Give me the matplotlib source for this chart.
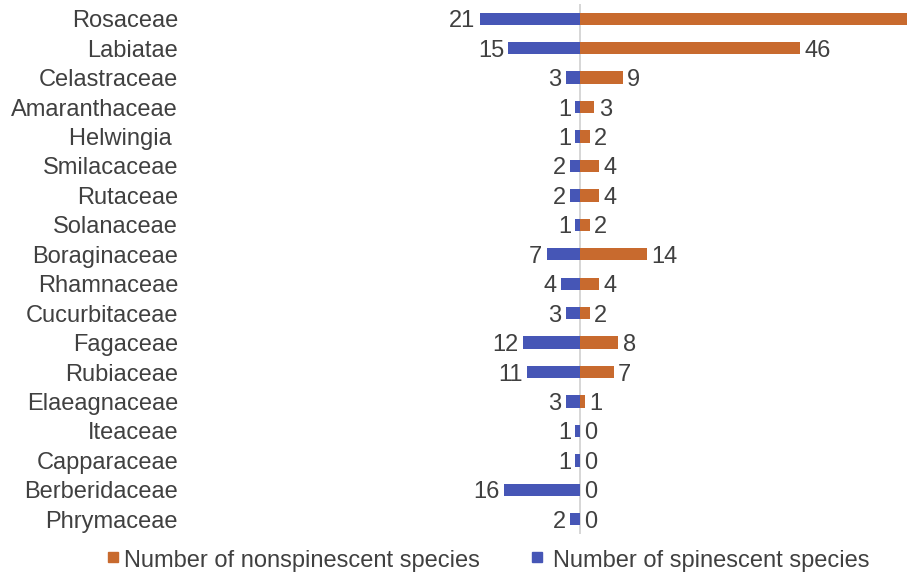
import matplotlib
matplotlib.use("Agg")
import matplotlib.pyplot as plt
from matplotlib.patches import Rectangle

plt.rcParams['font.family'] = ['Liberation Sans', 'DejaVu Sans']

families = ["Rosaceae", "Labiatae", "Celastraceae", "Amaranthaceae", "Helwingia ",
            "Smilacaceae", "Rutaceae", "Solanaceae", "Boraginaceae", "Rhamnaceae",
            "Cucurbitaceae", "Fagaceae", "Rubiaceae", "Elaeagnaceae", "Iteaceae",
            "Capparaceae", "Berberidaceae", "Phrymaceae"]
nonspinescent = [75, 46, 9, 3, 2, 4, 4, 2, 14, 4, 2, 8, 7, 1, 0, 0, 0, 0]
spinescent = [21, 15, 3, 1, 1, 2, 2, 1, 7, 4, 3, 12, 11, 3, 1, 1, 16, 2]

orange = "#C86A2E"
blue = "#4656B6"
text_col = "#404040"

W, H = 907, 577
fig = plt.figure(figsize=(W / 100, H / 100), dpi=100)
ax = fig.add_axes([190 / W, 1 - 534 / H, (907 - 190) / W, 530 / H])

XMIN, XMAX = -81.6, 68.4
y = list(range(len(families)))
ax.barh(y, nonspinescent, height=0.42, color=orange)
ax.barh(y, [-v for v in spinescent], height=0.42, color=blue)
ax.axvline(0, color="#d0d0d0", lw=1.2, zorder=0)

ax.set_xlim(XMIN, XMAX)
ax.set_ylim(len(families) - 0.5, -0.5)

fs = 17
for i, (n, s) in enumerate(zip(nonspinescent, spinescent)):
    if n + 6 < XMAX:
        ax.text(n + 0.9, i, str(n), ha="left", va="center_baseline", fontsize=fs,
                color=text_col)
    ax.text(-s - 0.9, i, str(s), ha="right", va="center_baseline", fontsize=fs,
            color=text_col)
    ax.text(-84.1, i, families[i], ha="right", va="center_baseline", fontsize=fs,
            color=text_col, clip_on=False)

ax.axis("off")

# legend along the bottom
fig.patches.append(Rectangle((108 / W, 1 - 562 / H), 10 / W, 10 / H,
                             color=orange, transform=fig.transFigure))
fig.text(124 / W, 1 - 558 / H, "Number of nonspinescent species", fontsize=fs,
         color=text_col, va="center_baseline", ha="left")
fig.patches.append(Rectangle((532 / W, 1 - 562 / H), 10 / W, 10 / H,
                             color=blue, transform=fig.transFigure))
fig.text(553 / W, 1 - 558 / H, "Number of spinescent species", fontsize=fs,
         color=text_col, va="center_baseline", ha="left")

fig.savefig("out.png", dpi=100)
